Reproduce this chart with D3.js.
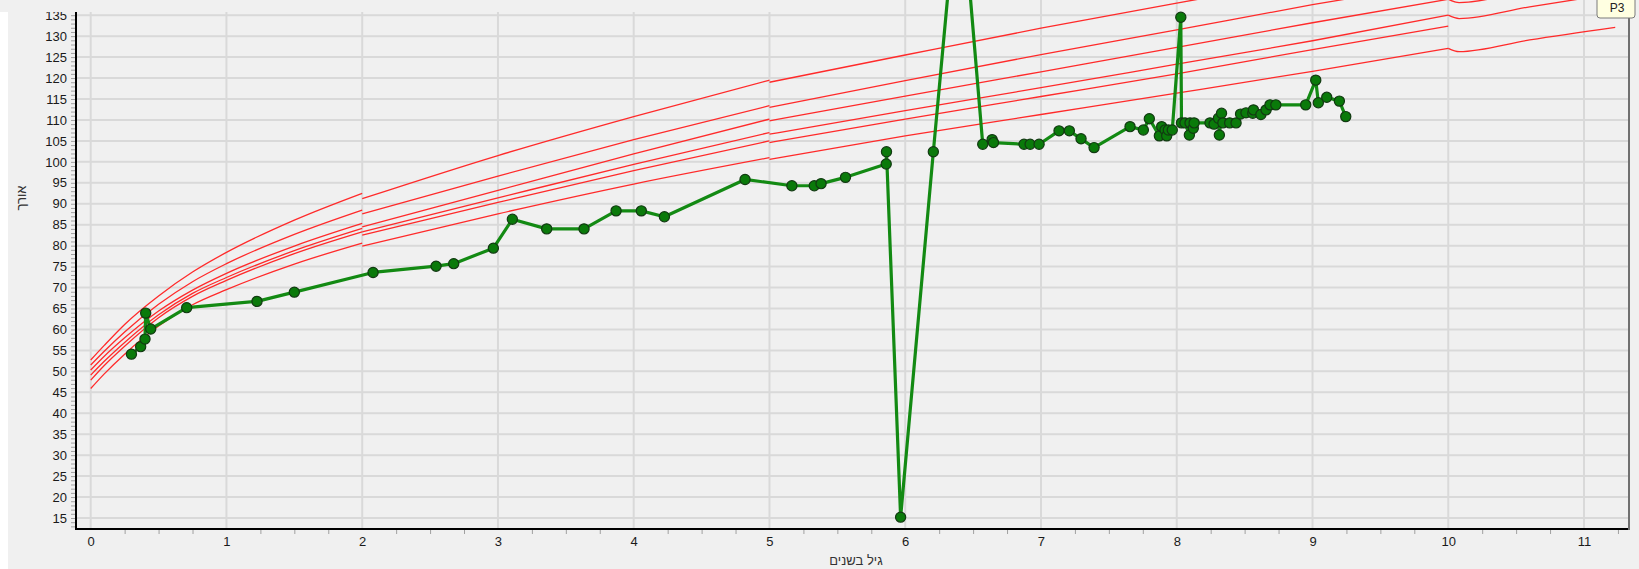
<!DOCTYPE html>
<html>
<head>
<meta charset="utf-8">
<script src="https://cdn.jsdelivr.net/npm/d3@7"></script>
<style>
  body { margin: 0; background: #f0f0f0; overflow: hidden; }
  svg { display: block; font-family: "Liberation Sans", Arial, sans-serif; }
</style>
</head>
<body>
<svg id="chart" width="1639" height="569"></svg>
<script>
// measured child: age in years, length in cm
const childAges = [0.30, 0.368, 0.40, 0.405, 0.442, 0.707, 1.225, 1.50, 2.08, 2.544, 2.674, 2.966, 3.106, 3.359, 3.634, 3.87, 4.056, 4.226, 4.82, 5.165, 5.33, 5.38, 5.56, 5.86, 5.862, 5.966, 6.207, 6.40, 6.571, 6.64, 6.65, 6.875, 6.92, 6.986, 7.133, 7.209, 7.295, 7.391, 7.656, 7.754, 7.798, 7.872, 7.889, 7.914, 7.926, 7.938, 7.967, 8.03, 8.035, 8.061, 8.093, 8.098, 8.122, 8.128, 8.245, 8.275, 8.307, 8.314, 8.33, 8.34, 8.39, 8.437, 8.47, 8.51, 8.56, 8.565, 8.62, 8.658, 8.687, 8.73, 8.95, 9.024, 9.043, 9.105, 9.198, 9.245];
const childLengths = [54.1, 55.9, 57.7, 63.9, 60.1, 65.2, 66.7, 68.9, 73.6, 75.1, 75.7, 79.4, 86.3, 84.0, 84.0, 88.3, 88.3, 86.9, 95.8, 94.3, 94.3, 94.8, 96.3, 99.5, 102.4, 15.2, 102.4, 170, 104.2, 105.3, 104.6, 104.2, 104.2, 104.2, 107.4, 107.4, 105.5, 103.4, 108.4, 107.6, 110.3, 106.2, 108.4, 107.6, 106.2, 107.6, 107.6, 134.5, 109.3, 109.3, 106.4, 109.3, 108.0, 109.3, 109.3, 109.0, 110.4, 106.4, 111.6, 109.3, 109.3, 109.3, 111.4, 111.7, 111.6, 112.4, 111.3, 112.4, 113.6, 113.6, 113.6, 119.5, 114.1, 115.4, 114.5, 110.8];

// reference curves, drawn in 4 age pieces (small jumps at 2, 5, 10)
const seg1Ages = [0, 0.1, 0.25, 0.5, 0.75, 1, 1.5, 2];
const seg1Lines = [
  [52.7, 56.2, 61.2, 68.0, 73.7, 78.4, 86.1, 92.5],
  [51.5, 54.8, 59.4, 66.0, 71.4, 75.7, 82.7, 88.5],
  [50.3, 53.6, 58.0, 64.4, 69.4, 73.4, 79.9, 85.3],
  [49.1, 52.4, 56.9, 63.5, 68.6, 72.4, 78.8, 84.1],
  [47.9, 51.4, 56.0, 62.8, 67.9, 71.7, 78.1, 83.3],
  [45.9, 49.4, 54.1, 60.8, 65.9, 69.5, 75.6, 80.6]
];
const seg2Ages = [2, 3, 4, 5];
const seg2Lines = [
  [91.2, 101.5, 110.8, 119.5],
  [87.6, 96.6, 105.3, 113.4],
  [84.5, 93.2, 101.9, 110.2],
  [83.3, 91.4, 99.4, 107.0],
  [82.5, 90.3, 97.9, 105.0],
  [79.9, 87.6, 94.7, 101.0]
];
const seg3Ages = [5, 6, 7, 8, 9, 10];
const seg3Lines = [
  [119.0, 125.5, 131.9, 137.9, 143.6, 149.0],
  [113.0, 119.4, 125.6, 131.5, 137.5, 143.0],
  [109.8, 115.7, 121.5, 127.3, 133.2, 138.8],
  [106.6, 112.2, 117.7, 123.3, 128.9, 135.0],
  [104.6, 110.2, 115.6, 121.0, 126.8, 132.4],
  [100.6, 106.2, 111.3, 116.4, 121.6, 127.1]
];
const seg4Ages = [10, 10.08, 10.6, 11.23];
const seg4Lines = [
  [149.0, 148.2, 151.2, 154.5],
  [143.0, 142.2, 145.2, 148.5],
  [138.8, 138.0, 140.9, 144.2],
  [135.0, 134.2, 137.0, 140.2],
  [127.1, 126.3, 129.1, 132.1]
];

const xTicks = d3.range(0, 12);
const yTicks = d3.range(15, 140, 5);
const xLabel = "גיל בשנים";
const yLabel = "אורך";
const tagLabel = "P3";

const svg = d3.select("#chart");
const plot = { left: 76, right: 1629, top: 12, bottom: 529 };

const x = d3.scaleLinear().domain([0, 11]).range([90.7, 1584]);
const y = d3.scaleLinear().domain([15, 135]).range([518, 15.2]);

// white strip on the far left
svg.append("rect").attr("x", 0).attr("y", 12).attr("width", 8).attr("height", 557).attr("fill", "#ffffff");

// grid
const grid = svg.append("g").attr("stroke", "#d9d9d9").attr("stroke-width", 2);
grid.selectAll("line.v").data(xTicks).join("line")
  .attr("class", "v")
  .attr("x1", d => x(d)).attr("x2", d => x(d))
  .attr("y1", 0).attr("y2", plot.bottom);
grid.selectAll("line.h").data(yTicks).join("line")
  .attr("class", "h")
  .attr("x1", plot.left).attr("x2", plot.right)
  .attr("y1", d => y(d)).attr("y2", d => y(d));

// axes
const yAxis = d3.axisLeft(y).tickValues(yTicks).tickSize(0).tickPadding(9);
const yMinor = d3.axisLeft(y).tickValues(d3.range(13, 137)).tickSize(4).tickFormat("");
const xAxis = d3.axisBottom(x).tickValues(xTicks).tickSize(0).tickPadding(8);
const xMinor = d3.axisBottom(x)
  .tickValues(d3.range(0, 11.3, 0.25).filter(d => d % 1 !== 0))
  .tickSize(4).tickFormat("");

svg.append("g").attr("transform", `translate(${plot.left - 1},0)`).call(yMinor)
  .call(g => g.select(".domain").remove())
  .call(g => g.selectAll("line").attr("stroke", "#a0a0a0"));
svg.append("g").attr("transform", `translate(0,${plot.bottom + 1})`).call(xMinor)
  .call(g => g.select(".domain").remove())
  .call(g => g.selectAll("line").attr("stroke", "#a0a0a0"));

svg.append("g").attr("transform", `translate(${plot.left},0)`).call(yAxis)
  .call(g => g.select(".domain").remove())
  .call(g => g.selectAll("text").attr("font-size", 13).attr("fill", "#1a1a1a")
    .attr("font-family", "'Liberation Sans', Arial, sans-serif"));
svg.append("g").attr("transform", `translate(0,${plot.bottom})`).call(xAxis)
  .call(g => g.select(".domain").remove())
  .call(g => g.selectAll("text").attr("font-size", 13).attr("fill", "#1a1a1a")
    .attr("font-family", "'Liberation Sans', Arial, sans-serif"));

// reference curves
const curveLine = d3.line()
  .x(d => x(d[0])).y(d => y(d[1]))
  .curve(d3.curveMonotoneX);
const segments = [];
[[seg1Ages, seg1Lines], [seg2Ages, seg2Lines], [seg3Ages, seg3Lines], [seg4Ages, seg4Lines]]
  .forEach(([ages, lines]) => {
    lines.forEach(vals => segments.push(ages.map((a, i) => [a, vals[i]])));
  });
svg.append("g").selectAll("path").data(segments).join("path")
  .attr("d", curveLine)
  .attr("fill", "none")
  .attr("stroke", "#ff2a2a")
  .attr("stroke-width", 1.3);

// child measurements
const pts = childAges.map((a, i) => [a, childLengths[i]]);
svg.append("path")
  .attr("d", d3.line().x(d => x(d[0])).y(d => y(d[1]))(pts))
  .attr("fill", "none")
  .attr("stroke", "#138a13")
  .attr("stroke-width", 3.2)
  .attr("stroke-linejoin", "round");
svg.append("g").selectAll("circle").data(pts).join("circle")
  .attr("cx", d => x(d[0])).attr("cy", d => y(d[1]))
  .attr("r", 5.1)
  .attr("fill", "#0a7a0a")
  .attr("stroke", "#123a12")
  .attr("stroke-width", 1.2);

// band over the top-left corner
svg.append("rect").attr("x", 0).attr("y", 0).attr("width", 900).attr("height", 12).attr("fill", "#f0f0f0");

// axis lines and right border
svg.append("line").attr("x1", plot.left).attr("x2", plot.left).attr("y1", plot.top).attr("y2", plot.bottom + 1)
  .attr("stroke", "#000").attr("stroke-width", 2);
svg.append("line").attr("x1", plot.left - 1).attr("x2", plot.right).attr("y1", plot.bottom).attr("y2", plot.bottom)
  .attr("stroke", "#000").attr("stroke-width", 2);
svg.append("line").attr("x1", plot.right).attr("x2", plot.right).attr("y1", 18).attr("y2", plot.bottom + 1)
  .attr("stroke", "#707070").attr("stroke-width", 2);

// titles
svg.append("text")
  .attr("x", 856).attr("y", 565)
  .attr("text-anchor", "middle")
  .attr("font-size", 13).attr("fill", "#333")
  .text(xLabel);
svg.append("text")
  .attr("transform", "translate(26,198) rotate(-90)")
  .attr("text-anchor", "middle")
  .attr("font-size", 13).attr("fill", "#333")
  .text(yLabel);

// little tag at top right
svg.append("rect")
  .attr("x", 1597).attr("y", -4).attr("width", 38).attr("height", 22).attr("rx", 3)
  .attr("fill", "#ffffe1").attr("stroke", "#7a7a7a");
svg.append("text")
  .attr("x", 1617).attr("y", 12)
  .attr("text-anchor", "middle")
  .attr("font-size", 12).attr("fill", "#222")
  .text(tagLabel);
</script>
</body>
</html>
